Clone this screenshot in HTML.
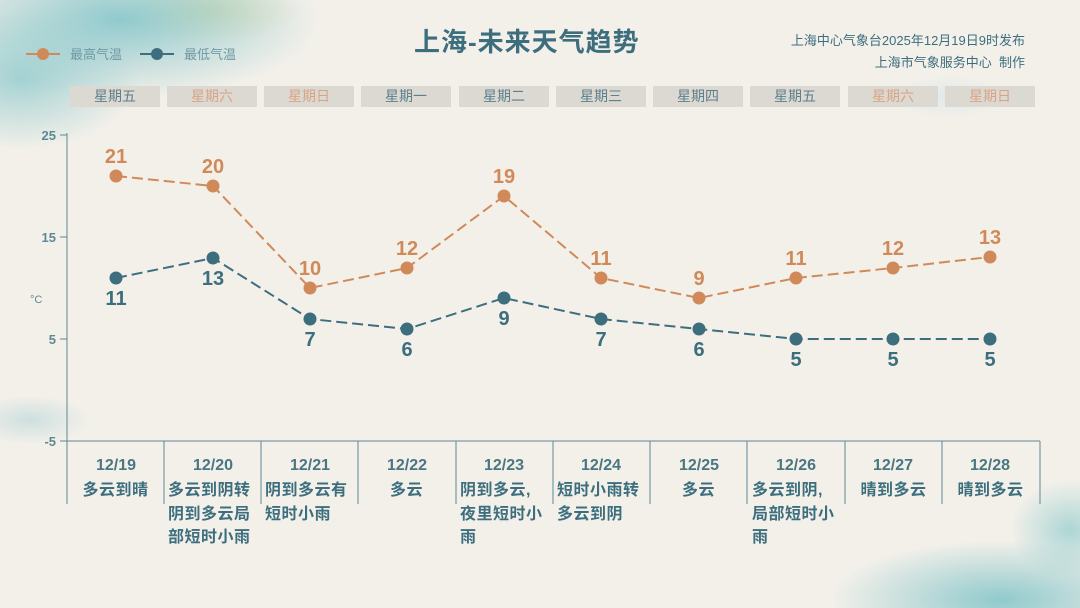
<!DOCTYPE html>
<html><head><meta charset="utf-8"><style>
html,body{margin:0;padding:0;width:1080px;height:608px;overflow:hidden}
body{background:#f3f0ea;font-family:"Liberation Sans","Noto Sans CJK SC",sans-serif}
#w{position:relative;width:1080px;height:608px;overflow:hidden;
background:
radial-gradient(ellipse 200px 80px at 120px 20px, rgba(127,195,200,.85), rgba(127,195,200,0)),
radial-gradient(ellipse 120px 70px at 20px 80px, rgba(134,198,202,.7), rgba(134,198,202,0)),
radial-gradient(ellipse 90px 35px at 210px 10px, rgba(216,214,154,.6), rgba(216,214,154,0)),
radial-gradient(ellipse 60px 25px at 30px 420px, rgba(196,220,220,.8), rgba(196,220,220,0)),
radial-gradient(ellipse 170px 60px at 1000px 600px, rgba(127,195,200,.85), rgba(127,195,200,0)),
radial-gradient(ellipse 60px 50px at 1070px 530px, rgba(142,203,204,.7), rgba(142,203,204,0)),
radial-gradient(ellipse 60px 22px at 950px 97px, rgba(223,232,232,.9), rgba(223,232,232,0)),
#f3f0ea}
.day{position:absolute;top:86px;width:90px;height:21px;background:#dcd8d2;font-size:14px;text-align:center;line-height:21px;color:#5b7f8b}
.o{color:#d9a486}
.t{position:absolute;font-weight:bold;color:#3d6e7e;font-size:16px;line-height:23.5px;width:84px;letter-spacing:0.5px;word-break:break-all}
.c{text-align:center;width:97px}
</style></head><body><div id="w">
<div style="position:absolute;left:414px;top:22px;font-size:26px;font-weight:bold;color:#3d6e7e;letter-spacing:1px">上海-未来天气趋势</div>
<div style="position:absolute;right:55px;top:30px;font-size:13px;color:#3d6e7e;text-align:right;line-height:22px">上海中心气象台2025年12月19日9时发布<br>上海市气象服务中心&nbsp;&nbsp;制作</div>
<svg style="position:absolute;left:0;top:0" width="1080" height="608">
<g>
<line x1="26" y1="54" x2="60" y2="54" stroke="#d08a5a" stroke-width="2"/><circle cx="43" cy="54" r="6" fill="#d08a5a"/>
<line x1="140" y1="54" x2="174" y2="54" stroke="#3d6e7e" stroke-width="2"/><circle cx="157" cy="54" r="6" fill="#3d6e7e"/>
<text x="70" y="59" font-size="13" fill="#6f9aa5">最高气温</text>
<text x="184" y="59" font-size="13" fill="#6f9aa5">最低气温</text>
</g>
<g stroke="#5d8994" stroke-width="1" fill="none">
<line x1="67" y1="133" x2="67" y2="443"/>
<line x1="60" y1="135" x2="67" y2="135"/><line x1="60" y1="237" x2="67" y2="237"/><line x1="60" y1="339" x2="67" y2="339"/>
<line x1="60" y1="441" x2="1040" y2="441"/>
<line x1="67" y1="441" x2="67" y2="504"/><line x1="164" y1="441" x2="164" y2="504"/><line x1="261" y1="441" x2="261" y2="504"/><line x1="358" y1="441" x2="358" y2="504"/><line x1="456" y1="441" x2="456" y2="504"/><line x1="553" y1="441" x2="553" y2="504"/><line x1="650" y1="441" x2="650" y2="504"/><line x1="747" y1="441" x2="747" y2="504"/><line x1="845" y1="441" x2="845" y2="504"/><line x1="942" y1="441" x2="942" y2="504"/><line x1="1040" y1="441" x2="1040" y2="504"/>
</g>
<g font-size="13" font-weight="bold" fill="#5d8994" text-anchor="end">
<text x="56" y="140">25</text><text x="56" y="242">15</text><text x="56" y="344">5</text><text x="56" y="446">-5</text>
</g>
<text x="30" y="303" font-size="11" fill="#5d8994">°C</text>
<polyline points="116,176 213,186 310,288 407,268 504,196 601,278 699,298 796,278 893,268 990,257" fill="none" stroke="#d08a5a" stroke-width="2" stroke-dasharray="11,5"/>
<polyline points="116,278 213,258 310,319 407,329 504,298 601,319 699,329 796,339 893,339 990,339" fill="none" stroke="#3d6e7e" stroke-width="2" stroke-dasharray="11,5"/>
<g fill="#d08a5a"><circle cx="116" cy="176" r="6.5"/><circle cx="213" cy="186" r="6.5"/><circle cx="310" cy="288" r="6.5"/><circle cx="407" cy="268" r="6.5"/><circle cx="504" cy="196" r="6.5"/><circle cx="601" cy="278" r="6.5"/><circle cx="699" cy="298" r="6.5"/><circle cx="796" cy="278" r="6.5"/><circle cx="893" cy="268" r="6.5"/><circle cx="990" cy="257" r="6.5"/></g>
<g fill="#3d6e7e"><circle cx="116" cy="278" r="6.5"/><circle cx="213" cy="258" r="6.5"/><circle cx="310" cy="319" r="6.5"/><circle cx="407" cy="329" r="6.5"/><circle cx="504" cy="298" r="6.5"/><circle cx="601" cy="319" r="6.5"/><circle cx="699" cy="329" r="6.5"/><circle cx="796" cy="339" r="6.5"/><circle cx="893" cy="339" r="6.5"/><circle cx="990" cy="339" r="6.5"/></g>
<g font-size="20" font-weight="bold" fill="#d08a5a" text-anchor="middle">
<text x="116" y="163">21</text><text x="213" y="173">20</text><text x="310" y="275">10</text><text x="407" y="255">12</text><text x="504" y="183">19</text><text x="601" y="265">11</text><text x="699" y="285">9</text><text x="796" y="265">11</text><text x="893" y="255">12</text><text x="990" y="244">13</text>
</g>
<g font-size="20" font-weight="bold" fill="#3d6e7e" text-anchor="middle">
<text x="116" y="305">11</text><text x="213" y="285">13</text><text x="310" y="346">7</text><text x="407" y="356">6</text><text x="504" y="325">9</text><text x="601" y="346">7</text><text x="699" y="356">6</text><text x="796" y="366">5</text><text x="893" y="366">5</text><text x="990" y="366">5</text>
</g>
<g font-size="16" font-weight="bold" fill="#4a7682" text-anchor="middle">
<text x="116" y="470">12/19</text><text x="213" y="470">12/20</text><text x="310" y="470">12/21</text><text x="407" y="470">12/22</text><text x="504" y="470">12/23</text><text x="601" y="470">12/24</text><text x="699" y="470">12/25</text><text x="796" y="470">12/26</text><text x="893" y="470">12/27</text><text x="990" y="470">12/28</text>
</g>
</svg>
<div class="day" style="left:70px">星期五</div><div class="day o" style="left:167px">星期六</div><div class="day o" style="left:264px">星期日</div><div class="day" style="left:361px">星期一</div><div class="day" style="left:459px">星期二</div><div class="day" style="left:556px">星期三</div><div class="day" style="left:653px">星期四</div><div class="day" style="left:750px">星期五</div><div class="day o" style="left:848px">星期六</div><div class="day o" style="left:945px">星期日</div>
<div class="t c" style="left:67px;top:479px">多云到晴</div>
<div class="t" style="left:168px;top:479px">多云到阴转<br>阴到多云局<br>部短时小雨</div>
<div class="t" style="left:265px;top:479px">阴到多云有<br>短时小雨</div>
<div class="t c" style="left:358px;top:479px">多云</div>
<div class="t" style="left:460px;top:479px">阴到多云,<br>夜里短时小<br>雨</div>
<div class="t" style="left:557px;top:479px">短时小雨转<br>多云到阴</div>
<div class="t c" style="left:650px;top:479px">多云</div>
<div class="t" style="left:752px;top:479px">多云到阴,<br>局部短时小<br>雨</div>
<div class="t c" style="left:845px;top:479px">晴到多云</div>
<div class="t c" style="left:942px;top:479px">晴到多云</div>
</div></body></html>
